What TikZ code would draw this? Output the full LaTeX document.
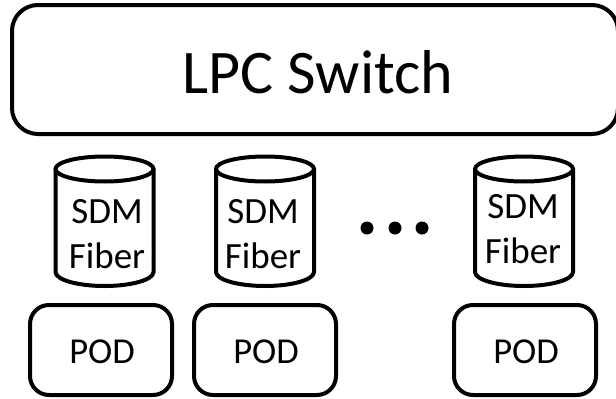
\documentclass[tikz,border=0pt]{standalone}
\usepackage{fontspec}
\setmainfont{Carlito}
\tikzset{
  x=1pt,y=-1pt,
  swbox/.style={draw=black,line width=4pt,rounded corners=26pt,inner sep=0pt},
  rbox/.style={draw=black,line width=4pt,rounded corners=19pt,inner sep=0pt},
  swtext/.style={inner sep=0pt,font=\fontsize{62}{66}\selectfont},
  podtext/.style={inner sep=0pt,font=\fontsize{36.5}{40}\selectfont},
  can/.style={draw=black,line width=4pt,fill=white},
  lbl/.style={inner sep=0pt,font=\fontsize{37}{45.5}\selectfont,align=center}
}
\begin{document}
\begin{tikzpicture}
\useasboundingbox (0,0) rectangle (616,399);
\node[swbox,minimum width=606,minimum height=129] (sw) at (315,69.5) {};
\node[swtext] (swt) at (318,72.5) {LPC Switch};
\foreach \cx in {104.5,265,524}{
  \draw[can] (\cx-49,169) -- (\cx-49,272) arc[start angle=180,end angle=360,x radius=49,y radius=-14] -- (\cx+49,169);
  \draw[can] (\cx,169) ellipse[x radius=49,y radius=12.5];
}
\node[lbl] (t1) at (107,234) {SDM\\Fiber};
\node[lbl] (t2) at (263,234) {SDM\\Fiber};
\node[lbl] (t3) at (523,229) {SDM\\Fiber};
\node[rbox,minimum width=142,minimum height=90] (p1) at (101,350) {};
\node[rbox,minimum width=142,minimum height=90] (p2) at (265,350) {};
\node[rbox,minimum width=142,minimum height=90] (p3) at (525,350) {};
\node[podtext] (pt1) at (102,351.5) {POD};
\node[podtext] (pt2) at (266,351.5) {POD};
\node[podtext] (pt3) at (526,351.5) {POD};
\foreach \x in {367,395,422}{\fill (\x,228) circle[radius=6.5];}
\end{tikzpicture}
\end{document}
